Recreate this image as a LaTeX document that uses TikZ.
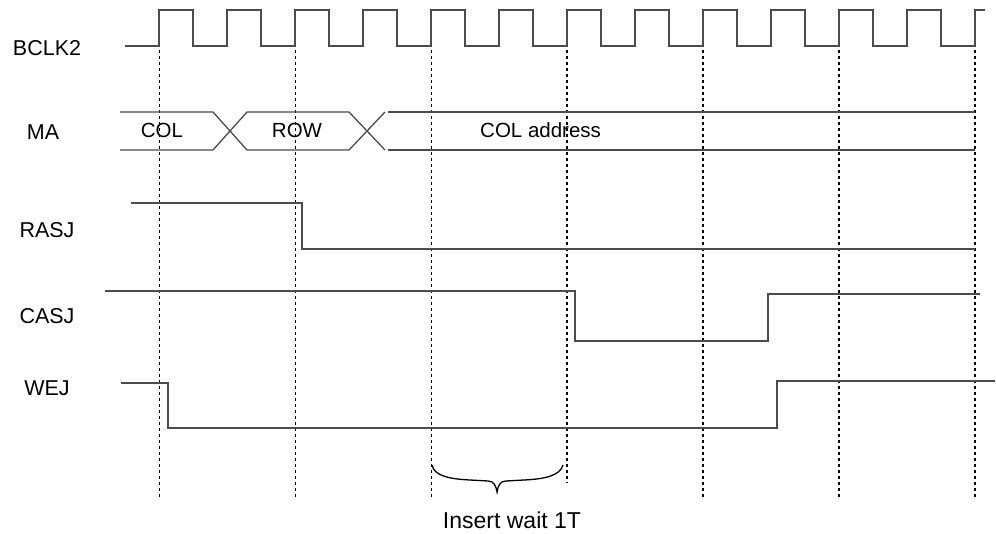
\documentclass[tikz,border=0pt]{standalone}
\usepackage{fontspec}
\setmainfont{Liberation Sans}
\begin{document}
\begin{tikzpicture}[x=1pt,y=-1pt,
  sig/.style={draw=black!70,line width=1.3pt,line join=miter},
  guide/.style={draw=black,line width=0.9pt,dash pattern=on 3pt off 3pt},
  guidebold/.style={draw=black,line width=2pt,dash pattern=on 3pt off 3pt},
  lbl/.style={inner sep=0pt,font=\fontsize{21.5}{21.5}\selectfont},
  txt/.style={inner sep=0pt,font=\fontsize{20.5}{20.5}\selectfont},
  bracepath/.style={draw=black,line width=1.3pt}]
\useasboundingbox (0,0) rectangle (996,533);
% guides
\foreach \x in {159,295,431} \draw[guide] (\x,50) -- (\x,497);
\draw[guidebold] (567,50) -- (567,483);
\foreach \x in {703,839,975} \draw[guidebold] (\x,50) -- (\x,497);
% labels
\node[lbl] (lclk) at (47,48) {BCLK2};
\node[lbl] (lma) at (43,132) {MA};
\node[lbl] (lras) at (47,230) {RASJ};
\node[lbl] (lcas) at (47,316) {CASJ};
\node[lbl] (lwe) at (47,388) {WEJ};
% clock
\draw[sig] (125,46) foreach \k in {0,...,11} { -- ({159+68*\k},46) -- ({159+68*\k},10) -- ({193+68*\k},10) -- ({193+68*\k},46) } -- (975,46) -- (975,10) -- (985,10);
% MA bus
\draw[sig] (120,112) -- (213,112) -- (247,150) -- (349,150) -- (385,112);
\draw[sig] (120,150) -- (213,150) -- (247,112) -- (349,112) -- (385,150);
\draw[sig] (388,112) -- (975,112);
\draw[sig] (388,150) -- (975,150);
\node[txt] (tcol) at (162,130) {COL};
\node[txt] (trow) at (297,130) {ROW};
\node[txt,anchor=west] (tcola) at (480,130) {COL address};
% RASJ
\draw[sig] (131,203) -- (302,203) -- (302,249) -- (975,249);
% CASJ
\draw[sig] (105,291) -- (575,291) -- (575,341) -- (768,341) -- (768,294) -- (980,294);
% WEJ
\draw[sig] (121,383) -- (168,383) -- (168,428) -- (777,428) -- (777,381) -- (995,381);
% brace
\draw[bracepath] (432,465) .. controls (434,476) and (450,479) .. (470,480) -- (488,481) .. controls (494,481) and (496,486) .. (497,492) .. controls (498,486) and (500,481) .. (506,481) -- (524,480) .. controls (544,479) and (560,476) .. (563,465);
\node[lbl,font=\fontsize{23}{23}\selectfont] (twait) at (512,520) {Insert wait 1T};
\end{tikzpicture}
\end{document}
